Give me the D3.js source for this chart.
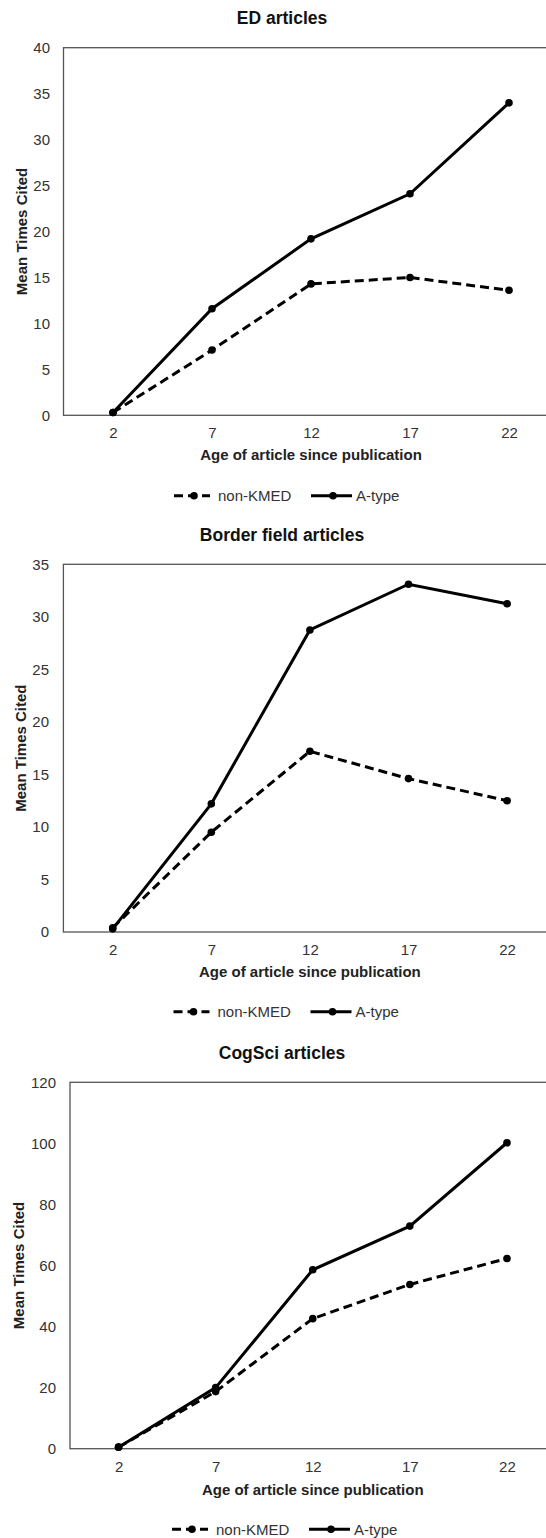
<!DOCTYPE html>
<html>
<head>
<meta charset="utf-8">
<script src="https://cdn.jsdelivr.net/npm/d3@7"></script>
<style>
  body { margin: 0; background: #fff; }
  svg { display: block; font-family: "Liberation Sans", Arial, sans-serif; }
</style>
</head>
<body>
<svg id="chart" width="546" height="1538"></svg>
<script>
// ---- data ----
var ages = [2, 7, 12, 17, 22];
var seriesNames = ["non-KMED", "A-type"];

var edNonKmed = [0.3, 7.1, 14.3, 15.0, 13.6];
var edAtype   = [0.3, 11.6, 19.2, 24.1, 34.0];

var borderNonKmed = [0.4, 9.5, 17.2, 14.6, 12.5];
var borderAtype   = [0.3, 12.2, 28.75, 33.1, 31.25];

var cogNonKmed = [0.5, 18.7, 42.6, 53.8, 62.3];
var cogAtype   = [0.5, 20.0, 58.6, 72.9, 100.2];

var titles = ["ED articles", "Border field articles", "CogSci articles"];
var yMaxes = [40, 35, 120];
var ySteps = [5, 5, 20];
var xTitle = "Age of article since publication";
var yTitle = "Mean Times Cited";

// ---- layout of each panel (pixels) ----
var panels = [
  {nk: edNonKmed, at: edAtype, left: 63.5, right: 558.5, top: 47.7, bottom: 415.3,
   titleY: 18.3, tickY: 432.7, xLabY: 455, legY: 495.7, yLabX: 22, tickX: 50, legX: 174},
  {nk: borderNonKmed, at: borderAtype, left: 63.4, right: 556.4, top: 564.3, bottom: 932,
   titleY: 535, tickY: 950, xLabY: 972, legY: 1011.7, yLabX: 21, tickX: 49, legX: 173.5},
  {nk: cogNonKmed, at: cogAtype, left: 70, right: 555.5, top: 1082.3, bottom: 1448.7,
   titleY: 1052.7, tickY: 1466.7, xLabY: 1489.3, legY: 1529.3, yLabX: 19, tickX: 56, legX: 172}
];

var svg = d3.select("#chart");
var dash = "9,5";

panels.forEach(function(p, i) {
  var x = d3.scalePoint().domain(ages).range([p.left, p.right]).padding(0.5);
  var y = d3.scaleLinear().domain([0, yMaxes[i]]).range([p.bottom, p.top]);
  var g = svg.append("g");

  // title
  g.append("text")
    .attr("x", 282).attr("y", p.titleY).attr("dy", "0.35em")
    .attr("text-anchor", "middle")
    .attr("font-size", "17.5px").attr("font-weight", "bold").attr("fill", "#111")
    .text(titles[i]);

  // plot frame
  g.append("rect")
    .attr("x", p.left).attr("y", p.top)
    .attr("width", p.right - p.left).attr("height", p.bottom - p.top)
    .attr("fill", "none").attr("stroke", "#555").attr("stroke-width", 1.3);

  // y axis labels
  var yAx = g.append("g")
    .attr("transform", "translate(" + p.tickX + ",0)")
    .call(d3.axisLeft(y).tickValues(d3.range(0, yMaxes[i] + 0.1, ySteps[i])).tickSize(0).tickPadding(0));
  yAx.select(".domain").remove();
  yAx.selectAll("text").attr("font-size", "15px").attr("fill", "#333")
    .attr("font-family", "Liberation Sans, Arial, sans-serif");

  // x axis labels
  var xAx = g.append("g")
    .attr("transform", "translate(0," + p.tickY + ")")
    .call(d3.axisBottom(x).tickSize(0).tickPadding(0));
  xAx.select(".domain").remove();
  xAx.selectAll("text").attr("dy", "0.35em").attr("font-size", "15px").attr("fill", "#333")
    .attr("font-family", "Liberation Sans, Arial, sans-serif");

  // axis titles
  g.append("text")
    .attr("x", (p.left + p.right) / 2).attr("y", p.xLabY).attr("dy", "0.35em")
    .attr("text-anchor", "middle")
    .attr("font-size", "15px").attr("font-weight", "bold").attr("fill", "#222")
    .text(xTitle);
  g.append("text")
    .attr("transform", "translate(" + p.yLabX + "," + (p.top + p.bottom) / 2 + ") rotate(-90)")
    .attr("dy", "0.35em")
    .attr("text-anchor", "middle")
    .attr("font-size", "15px").attr("font-weight", "bold").attr("fill", "#222")
    .text(yTitle);

  // lines
  var line = d3.line()
    .x(function(d, k) { return x(ages[k]); })
    .y(function(d) { return y(d); });

  [p.nk, p.at].forEach(function(vals, s) {
    g.append("path")
      .datum(vals)
      .attr("d", line)
      .attr("fill", "none").attr("stroke", "#000").attr("stroke-width", 3)
      .attr("stroke-dasharray", s == 0 ? dash : null);
    g.selectAll(".pt" + s)
      .data(vals)
      .enter().append("circle")
      .attr("class", "pt" + s)
      .attr("cx", function(d, k) { return x(ages[k]); })
      .attr("cy", function(d) { return y(d); })
      .attr("r", 3.8).attr("fill", "#000");
  });

  // legend
  var leg = g.append("g").attr("transform", "translate(" + p.legX + "," + p.legY + ")");
  var items = [{x0: 0, x1: 36, m: 20, tx: 44, dash: dash}, {x0: 137, x1: 178, m: 159, tx: 182, dash: null}];
  items.forEach(function(it, s) {
    leg.append("line")
      .attr("x1", it.x0).attr("x2", it.x1).attr("y1", 0).attr("y2", 0)
      .attr("stroke", "#000").attr("stroke-width", 3)
      .attr("stroke-dasharray", it.dash);
    leg.append("circle").attr("cx", it.m).attr("cy", 0).attr("r", 3.8).attr("fill", "#000");
    leg.append("text")
      .attr("x", it.tx).attr("y", 0).attr("dy", "0.35em")
      .attr("font-size", "15px").attr("fill", "#333")
      .text(seriesNames[s]);
  });
});
</script>
</body>
</html>
